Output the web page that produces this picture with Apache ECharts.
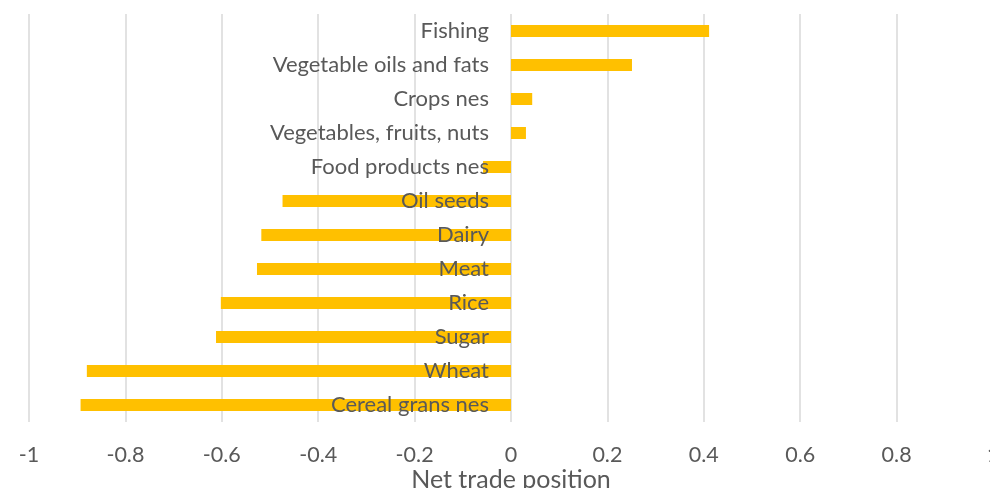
<!DOCTYPE html>
<html>
<head>
<meta charset="utf-8">
<script src="https://cdn.jsdelivr.net/npm/echarts@6/dist/echarts.min.js"></script>
<style>
html,body{margin:0;padding:0;background:#fff;}
#chart{width:990px;height:488px;}
</style>
</head>
<body>
<div id="chart"></div>
<script>
var categories = ["Fishing","Vegetable oils and fats","Crops nes","Vegetables, fruits, nuts","Food products nes","Oil seeds","Dairy","Meat","Rice","Sugar","Wheat","Cereal grans nes"];
var netTrade = [0.411, 0.251, 0.044, 0.031, -0.058, -0.474, -0.518, -0.527, -0.602, -0.612, -0.880, -0.893];
var xAxisTitle = "Net trade position";

var chart = echarts.init(document.getElementById('chart'));
var FONT = 'Lato';
chart.setOption({
  animation: false,
  backgroundColor: '#ffffff',
  grid: {left: 29, right: -3, top: 14, bottom: 66, containLabel: false, outerBoundsMode: 'none'},
  xAxis: {
    type: 'value', min: -1, max: 1, interval: 0.2,
    name: xAxisTitle, nameLocation: 'middle', nameGap: 45, nameMoveOverlap: false,
    nameTextStyle: {color: '#595959', fontSize: 25, fontFamily: FONT},
    axisLine: {show: false}, axisTick: {show: false},
    axisLabel: {color: '#595959', fontSize: 21.5, fontFamily: FONT, margin: 22,
      formatter: function (v) { return String(Math.round(v * 10) / 10); }},
    splitLine: {show: true, lineStyle: {color: '#d9d9d9', width: 1.5}}
  },
  yAxis: {
    type: 'category', data: categories, inverse: true, offset: -482, z: 5,
    axisLine: {show: false},
    axisTick: {show: false},
    axisLabel: {color: '#595959', fontSize: 22, fontFamily: FONT, margin: 22},
    splitLine: {show: false}
  },
  series: [{
    type: 'bar', data: netTrade, barWidth: 12,
    itemStyle: {color: '#FFC000'}, z: 1
  }]
});
</script>
</body>
</html>
